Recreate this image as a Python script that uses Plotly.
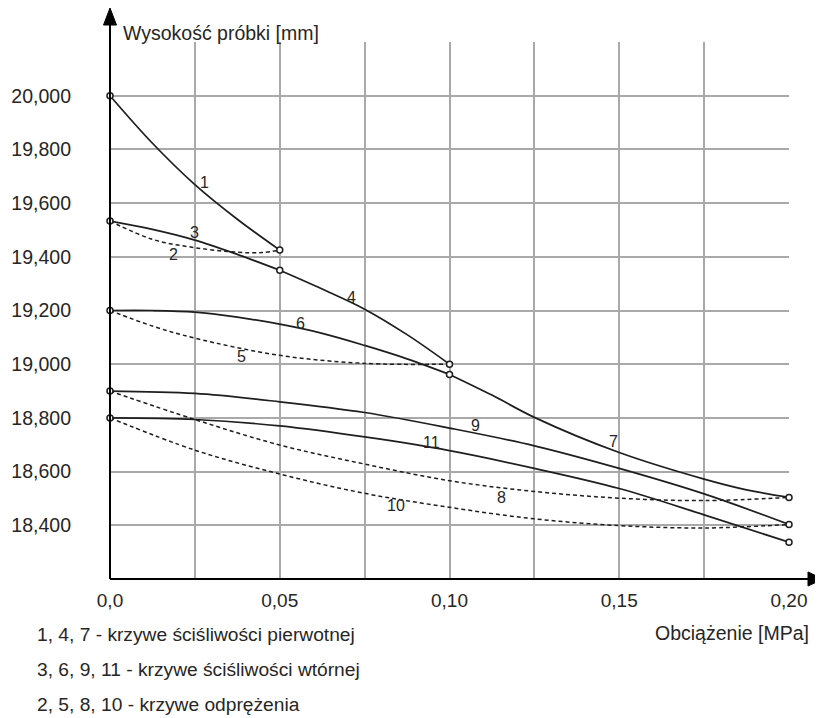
import plotly.graph_objects as go

# ---------------- data ----------------
c1_x = [0, 0.0125, 0.025, 0.0375, 0.05]
c1_y = [20.0, 19.823, 19.669, 19.54, 19.425]
c2_x = [0, 0.0125, 0.025, 0.0375, 0.045, 0.05]
c2_y = [19.533, 19.465, 19.434, 19.417, 19.416, 19.425]
c3_x = [0, 0.0125, 0.025, 0.0375, 0.05]
c3_y = [19.533, 19.502, 19.462, 19.409, 19.35]
c4_x = [0.05, 0.0625, 0.075, 0.0875, 0.1]
c4_y = [19.35, 19.28, 19.205, 19.11, 19.0]
c5_x = [0, 0.0125, 0.025, 0.05, 0.075, 0.1]
c5_y = [19.2, 19.142, 19.097, 19.033, 19.003, 19.0]
c6_x = [0, 0.0125, 0.025, 0.0375, 0.05, 0.0625, 0.075, 0.0875, 0.1]
c6_y = [19.2, 19.2, 19.194, 19.175, 19.149, 19.115, 19.07, 19.02, 18.962]
c7_x = [0.1, 0.1125, 0.125, 0.15, 0.175, 0.1875, 0.2]
c7_y = [18.962, 18.885, 18.802, 18.671, 18.572, 18.532, 18.504]
c_long_x = [0, 0.025, 0.05, 0.075, 0.1, 0.125, 0.15, 0.175, 0.2]
c8_y = [18.9, 18.794, 18.699, 18.628, 18.566, 18.526, 18.501, 18.492, 18.504]
c9_y = [18.9, 18.891, 18.86, 18.82, 18.762, 18.696, 18.612, 18.517, 18.403]
c10_y = [18.8, 18.68, 18.591, 18.519, 18.467, 18.424, 18.399, 18.39, 18.403]
c11_y = [18.8, 18.794, 18.77, 18.729, 18.678, 18.612, 18.537, 18.439, 18.337]

node_x = [0, 0.05, 0, 0.05, 0.1, 0.1, 0, 0, 0, 0.2, 0.2, 0.2]
node_y = [20.0, 19.425, 19.533, 19.35, 19.0, 18.962, 19.2, 18.9, 18.8, 18.504, 18.403, 18.337]

label_text = ["1", "2", "3", "4", "5", "6", "7", "8", "9", "10", "11"]
label_x = [0.0278, 0.0187, 0.0248, 0.071, 0.0388, 0.056, 0.1483, 0.1154, 0.1078, 0.0841, 0.0947]
label_y = [19.675, 19.409, 19.49, 19.248, 19.029, 19.152, 18.711, 18.502, 18.771, 18.475, 18.709]

x_ticks = [0, 0.025, 0.05, 0.075, 0.1, 0.125, 0.15, 0.175, 0.2]
x_ticktext = ["0,0", "", "0,05", "", "0,10", "", "0,15", "", "0,20"]
y_ticks = [18.2, 18.4, 18.6, 18.8, 19.0, 19.2, 19.4, 19.6, 19.8, 20.0, 20.2]
y_ticktext = ["", "18,400", "18,600", "18,800", "19,000", "19,200", "19,400",
              "19,600", "19,800", "20,000", ""]

y_title = "Wysokość próbki [mm]"
x_title = "Obciążenie [MPa]"
notes = ["1, 4, 7 - krzywe ściśliwości pierwotnej",
         "3, 6, 9, 11 - krzywe ściśliwości wtórnej",
         "2, 5, 8, 10 - krzywe odprężenia"]

# ---------------- figure ----------------
OFF = 8  # page body margin in the browser
W, H = 823 - OFF, 718 - OFF
L, R, T, B = 110 - OFF, 34, 42 - OFF, 139
PW, PH = W - L - R, H - T - B
FONT = "Liberation Sans, Arial, sans-serif"
TXT = "#262626"
LINE = "#1e1e1e"


def px(xp):
    """reference-pixel x -> paper coordinate"""
    return (xp - OFF - L) / PW


def py(yp):
    """reference-pixel y -> paper coordinate"""
    return (H - B - (yp - OFF)) / PH


AX_Y = 579  # reference pixel row of the x axis
AX_X = 110  # reference pixel column of the y axis

fig = go.Figure()

solid = [(c1_x, c1_y), (c3_x, c3_y), (c4_x, c4_y), (c6_x, c6_y), (c7_x, c7_y),
         (c_long_x, c9_y), (c_long_x, c11_y)]
dashed = [(c2_x, c2_y), (c5_x, c5_y), (c_long_x, c8_y), (c_long_x, c10_y)]

for xs, ys in dashed:
    fig.add_trace(go.Scatter(x=xs, y=ys, mode="lines", cliponaxis=False,
                             line=dict(color=LINE, width=1.5, dash="4px,3px",
                                       shape="spline", smoothing=1.0),
                             hoverinfo="skip", showlegend=False))
for xs, ys in solid:
    fig.add_trace(go.Scatter(x=xs, y=ys, mode="lines", cliponaxis=False,
                             line=dict(color=LINE, width=1.7, shape="spline",
                                       smoothing=1.0),
                             hoverinfo="skip", showlegend=False))

fig.add_trace(go.Scatter(x=node_x, y=node_y, mode="markers", cliponaxis=False,
                         marker=dict(size=6, color="white",
                                     line=dict(color=LINE, width=1.5)),
                         hoverinfo="skip", showlegend=False))

for t, lx, ly in zip(label_text, label_x, label_y):
    fig.add_annotation(x=lx, y=ly, text=t, showarrow=False,
                       font=dict(family=FONT, size=16, color=TXT))

# axis lines with arrows
fig.add_shape(type="line", xref="paper", yref="paper", x0=0, y0=0,
              x1=0, y1=py(20), line=dict(color="black", width=2))
fig.add_shape(type="path", xref="paper", yref="paper",
              path=f"M {px(AX_X)} {py(8)} L {px(AX_X - 6.5)} {py(25)} L {px(AX_X + 6.5)} {py(25)} Z",
              fillcolor="black", line=dict(color="black", width=1))
fig.add_shape(type="line", xref="paper", yref="paper", x0=0, y0=0,
              x1=px(812), y1=0, line=dict(color="black", width=2))
fig.add_shape(type="path", xref="paper", yref="paper",
              path=f"M {px(823)} {py(AX_Y)} L {px(808)} {py(AX_Y - 7)} L {px(808)} {py(AX_Y + 7)} Z",
              fillcolor="black", line=dict(color="black", width=1))

fig.add_annotation(xref="paper", yref="paper", x=px(121), y=py(33), text=y_title,
                   showarrow=False, xanchor="left", yanchor="middle",
                   font=dict(family=FONT, size=19.5, color=TXT))
fig.add_annotation(xref="paper", yref="paper", x=px(811), y=py(633), text=x_title,
                   showarrow=False, xanchor="right", yanchor="middle",
                   font=dict(family=FONT, size=19.5, color=TXT))
for i, n in enumerate(notes):
    fig.add_annotation(xref="paper", yref="paper", x=px(35), y=py(634 + 35 * i),
                       text=n, showarrow=False, xanchor="left", yanchor="middle",
                       font=dict(family=FONT, size=19.2, color=TXT))

fig.update_xaxes(range=[0, 0.2], tickvals=x_ticks, ticktext=x_ticktext,
                 showgrid=True, gridcolor="#a9a9a9", gridwidth=1.5,
                 zeroline=False, showline=False, ticks="", automargin=False,
                 ticklabelstandoff=8,
                 tickfont=dict(family=FONT, size=19, color=TXT), fixedrange=True)
fig.update_yaxes(range=[18.2, 20.2], tickvals=y_ticks, ticktext=y_ticktext,
                 showgrid=True, gridcolor="#a9a9a9", gridwidth=1.5,
                 zeroline=False, showline=False, ticks="", automargin=False,
                 ticklabelstandoff=38,
                 tickfont=dict(family=FONT, size=19.5, color=TXT), fixedrange=True)

fig.update_layout(width=W, height=H, margin=dict(l=L, r=R, t=T, b=B),
                  plot_bgcolor="white", paper_bgcolor="white",
                  font=dict(family=FONT, color=TXT))

fig.write_html("out.html")
